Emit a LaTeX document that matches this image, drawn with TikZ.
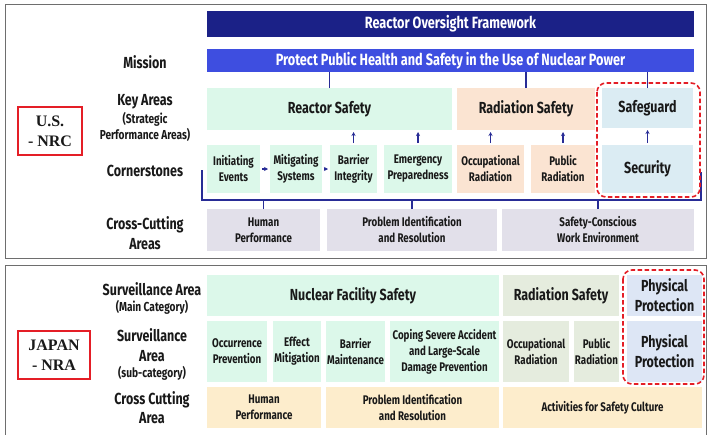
\documentclass[tikz,border=0pt]{standalone}
\usepackage{fontspec}
\setmainfont{Fira Sans}[FakeStretch=0.78]
\newfontfamily\agencyfont{Liberation Serif}
\usetikzlibrary{arrows.meta,positioning}

\definecolor{ink}{RGB}{25,25,25}
\definecolor{navy}{RGB}{27,33,135}
\definecolor{mission}{RGB}{62,78,224}
\definecolor{linkblue}{RGB}{40,44,150}
\definecolor{mint}{RGB}{220,248,234}
\definecolor{peach}{RGB}{251,228,210}
\definecolor{sky}{RGB}{219,236,243}
\definecolor{lilac}{RGB}{226,224,234}
\definecolor{sage}{RGB}{229,236,222}
\definecolor{ice}{RGB}{221,230,245}
\definecolor{cream}{RGB}{253,237,204}
\definecolor{alarm}{RGB}{228,30,38}
\definecolor{framegray}{RGB}{110,110,110}

\tikzset{
  cell/.style={inner sep=1pt, outer sep=0pt, align=center, text=ink,
    font=\fontsize{12.5}{16}\selectfont\bfseries},
  bigcell/.style={cell, font=\fontsize{16}{20}\selectfont\bfseries},
  banner/.style={bigcell, text=white, font=\fontsize{16.3}{18}\selectfont\bfseries},
  rowlabel/.style={align=center, text=ink, font=\fontsize{16}{19.5}\selectfont\bfseries},
  sublabel/.style={align=center, text=ink, font=\fontsize{13}{16.5}\selectfont\bfseries},
  agency/.style={draw=alarm, line width=1.6pt, align=center, text=ink,
    font=\agencyfont\fontsize{16}{20}\selectfont\bfseries},
  link/.style={draw=linkblue, line width=1.1pt},
  up/.style={link, -{Stealth[length=4pt,width=4pt]}, shorten >=2pt, shorten <=2pt},
  reddash/.style={draw=alarm, line width=1.6pt, dash pattern=on 4.5pt off 2.5pt,
    rounded corners=9pt},
  frame/.style={draw=framegray, line width=1pt},
}

\begin{document}
\begin{tikzpicture}[x=1pt,y=-1pt]
  \useasboundingbox (0,0) rectangle (708,434);

  % ---------------- U.S. NRC panel ----------------
  \draw[frame] (5,4) rectangle (706.5,258);
  \node[agency, minimum width=64pt, minimum height=48pt] (nrc) at (50,131) {U.S.\\- NRC};

  % row labels
  \node[rowlabel] (lmission) at (145,62) {Mission};
  \node[rowlabel] (lkey) at (145,102) {Key Areas};
  \node[sublabel] (lspa) at (145,127) {(Strategic\\Performance Areas)};
  \node[rowlabel] (lcorner) at (145,171) {Cornerstones};
  \node[rowlabel] (lcross) at (145,233) {Cross-Cutting\\Areas};

  % banners
  \node[banner, fill=navy, minimum width=487pt, minimum height=26pt] (rof) at (450.5,24) {Reactor Oversight Framework};
  \node[banner, fill=mission, minimum width=487pt, minimum height=23pt] (goal) at (450.5,60.5)
    {Protect Public Health and Safety in the Use of Nuclear Power};

  % key areas
  \node[bigcell, fill=mint, minimum width=245pt, minimum height=42pt] (reactor) at (329.5,109) {Reactor Safety};
  \node[bigcell, fill=peach, minimum width=138pt, minimum height=42pt] (radiation) at (526,109) {Radiation Safety};
  \node[bigcell, fill=sky, minimum width=91pt, minimum height=40pt] (safeguard) at (647.5,108) {Safeguard};

  % cornerstones
  \node[cell, fill=mint, minimum width=53pt, minimum height=48pt] (init) at (233.5,169) {Initiating\\Events};
  \node[cell, fill=mint, minimum width=52pt, minimum height=48pt] (mitig) at (296,169) {Mitigating\\Systems};
  \node[cell, fill=mint, minimum width=47pt, minimum height=48pt] (barrier) at (353.5,169) {Barrier\\Integrity};
  \node[cell, fill=mint, minimum width=68pt, minimum height=48pt] (emerg) at (418,169) {Emergency\\Preparedness};
  \node[cell, fill=peach, minimum width=67pt, minimum height=48pt] (occup) at (490.5,169) {Occupational\\Radiation};
  \node[cell, fill=peach, minimum width=64pt, minimum height=48pt] (public) at (563,169) {Public\\Radiation};
  \node[bigcell, fill=sky, minimum width=91pt, minimum height=48pt] (security) at (647.5,169) {Security};

  % cross-cutting areas
  \node[cell, fill=lilac, minimum width=113pt, minimum height=42pt] (human) at (263.5,230) {Human\\Performance};
  \node[cell, fill=lilac, minimum width=170pt, minimum height=42pt] (pir) at (412,230) {Problem Identification\\and Resolution};
  \node[cell, fill=lilac, minimum width=192pt, minimum height=42pt] (scwe) at (598,230) {Safety-Conscious\\Work Environment};

  % mission to key areas
  \foreach \k in {reactor,radiation,safeguard}
    \draw[link] (\k.north) -- (\k.north |- goal.south);

  % cornerstones feed key areas
  \foreach \c/\k in {barrier/reactor, emerg/reactor, occup/radiation, public/radiation, security/safeguard}
    \draw[up] (\c.north) -- (\c.north |- \k.south);
  \draw[up] (init) -- (mitig);
  \draw[up] (mitig) -- (barrier);

  % bracket over the cross-cutting areas
  \coordinate (bl) at (202,170);
  \coordinate (br) at (701,172);
  \draw[link] (bl) -- (202,200) -- (701,200) -- (br);
  \foreach \x in {human,pir,scwe}
    \draw[link] (\x.north) -- ++(0,-9);

  \draw[reddash] (597,83) rectangle (700,197);

  % ---------------- JAPAN NRA panel ----------------
  \draw[frame] (5,440) -- (5,265) -- (706.5,265) -- (706.5,440);
  \node[agency, minimum width=72pt, minimum height=48pt] (nra) at (54,355) {JAPAN\\- NRA};

  \node[rowlabel] (lmain) at (152,289) {Surveillance Area};
  \node[sublabel] (lmaincat) at (152,307) {(Main Category)};
  \node[rowlabel] (lsub) at (152,345) {Surveillance\\Area};
  \node[sublabel] (lsubcat) at (152,373) {(sub-category)};
  \node[rowlabel] (lcutting) at (152,407.5) {Cross Cutting\\Area};

  % main categories
  \node[bigcell, fill=mint, minimum width=292pt, minimum height=41pt] (nfs) at (353,295.5) {Nuclear Facility Safety};
  \node[bigcell, fill=sage, minimum width=116pt, minimum height=41pt] (radsafe) at (561,295.5) {Radiation Safety};
  \node[bigcell, fill=ice, minimum width=75pt, minimum height=41pt] (ppmain) at (664.5,295.5) {Physical\\Protection};

  % sub-categories
  \node[cell, fill=mint, minimum width=60pt, minimum height=61pt] (occur) at (237,351.5) {Occurrence\\Prevention};
  \node[cell, fill=mint, minimum width=48pt, minimum height=61pt] (effect) at (297,351.5) {Effect\\Mitigation};
  \node[cell, fill=mint, minimum width=59pt, minimum height=61pt] (bmaint) at (355.5,351.5) {Barrier\\Maintenance};
  \node[cell, fill=mint, minimum width=109pt, minimum height=61pt] (coping) at (444.5,351.5)
    {Coping Severe Accident\\and Large-Scale\\Damage Prevention};
  \node[cell, fill=sage, minimum width=66pt, minimum height=61pt] (occrad) at (536,351.5) {Occupational\\Radiation};
  \node[cell, fill=sage, minimum width=45pt, minimum height=61pt] (pubrad) at (596.5,351.5) {Public\\Radiation};
  \node[bigcell, fill=ice, minimum width=75pt, minimum height=61pt] (ppsub) at (664.5,351.5) {Physical\\Protection};

  % cross cutting
  \node[cell, fill=cream, minimum width=114pt, minimum height=41pt] (hperf) at (264,407.5) {Human\\Performance};
  \node[cell, fill=cream, minimum width=173pt, minimum height=41pt] (pires) at (412.5,407.5) {Problem Identification\\and Resolution};
  \node[cell, fill=cream, minimum width=199pt, minimum height=41pt] (culture) at (602.5,407.5) {Activities for Safety Culture};

  \draw[reddash] (623,270) rectangle (704,384);
\end{tikzpicture}
\end{document}
